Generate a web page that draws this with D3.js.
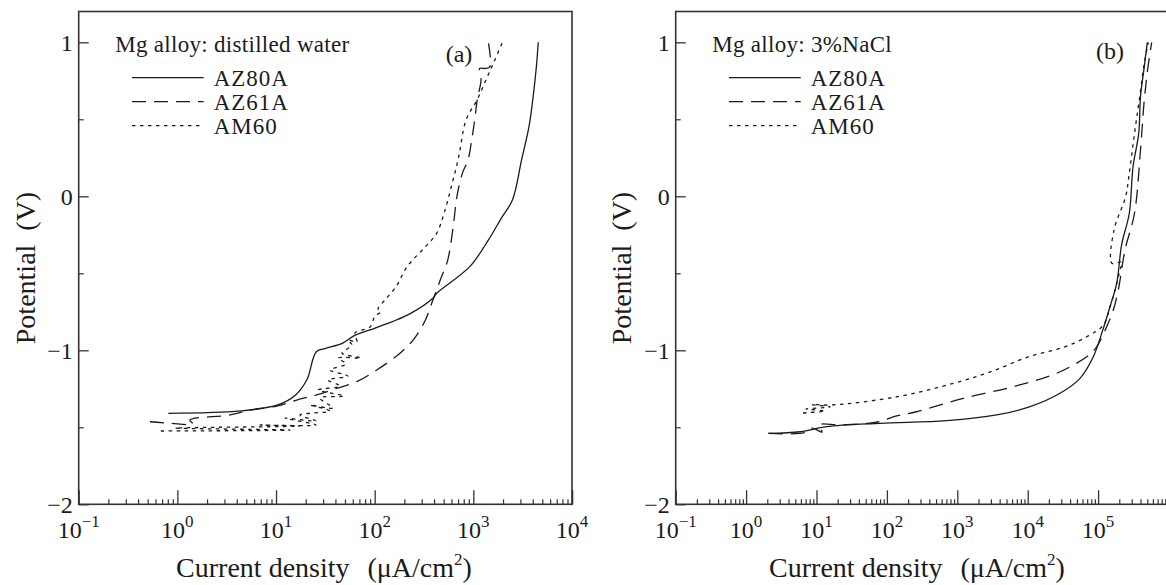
<!DOCTYPE html>
<html>
<head>
<meta charset="utf-8">
<script src="https://cdnjs.cloudflare.com/ajax/libs/d3/7.8.5/d3.min.js"></script>
<style>
  html, body { margin: 0; padding: 0; background: #fff; }
  svg { display: block; }
  text { font-family: "Liberation Serif", "Times New Roman", Times, serif; }
</style>
</head>
<body>
<svg id="chart" width="1166" height="585"></svg>
<script>
// current density (uA/cm2), potential (V)

// (a) distilled water
const waterAZ80A = [
  [0.81, -1.41], [4.37, -1.394], [10.4, -1.355], [15.8, -1.29], [20.6, -1.19],
  [25.6, -1.009], [31.8, -0.987], [46.9, -0.955], [63.5, -0.901], [89.5, -0.868],
  [150.7, -0.814], [231.7, -0.76], [389, -0.662], [425, -0.63], [920, -0.457],
  [1419, -0.284], [1919, -0.143], [2489, -0.024], [3083, 0.236], [3664, 0.452],
  [4000, 0.625], [4355, 0.842], [4550, 1.0]
];
const waterAZ61A = [
  [0.528, -1.464], [0.842, -1.474], [1.44, -1.479], [1.34, -1.453], [3.42, -1.42],
  [5.45, -1.388], [10.2, -1.362], [16.2, -1.323], [25.8, -1.29], [41.2, -1.247],
  [65.7, -1.204], [104.8, -1.128], [180.6, -1.019], [253, -0.922], [327, -0.803],
  [389, -0.673], [462, -0.544], [550, -0.414], [625, -0.197], [681, -0.003],
  [774, 0.149], [883, 0.236], [962, 0.366], [1032, 0.496], [1094, 0.625],
  [1196, 0.755], [1160, 0.83], [1330, 0.83], [1470, 0.84], [1420, 1.0]
];
const waterAM60 = [
  [0.68, -1.524], [13.9, -1.518], [0.95, -1.505], [17.5, -1.492], [6.9, -1.485],
  [25.4, -1.485], [12.3, -1.44], [25.4, -1.459], [17.5, -1.42], [35.2, -1.394],
  [22.1, -1.355], [37.8, -1.375], [27.9, -1.31], [48.9, -1.297], [26.7, -1.258],
  [44.6, -1.232], [33.6, -1.193], [53.6, -1.167], [35.2, -1.128], [51.2, -1.089],
  [42.5, -1.05], [72.6, -1.05], [46.6, -1.018], [58.9, -0.966], [53.6, -0.933],
  [66.2, -0.946], [63.1, -0.888], [89.7, -0.849], [100.7, -0.777], [115.9, -0.751],
  [108, -0.732], [127, -0.673], [164, -0.589], [213, -0.457], [327, -0.327],
  [425, -0.24], [505, -0.11], [598, 0.062], [711, 0.257], [843, 0.495],
  [1089, 0.625], [1343, 0.756], [1618, 0.872], [1972, 1.0]
];

// (b) 3% NaCl
const saltAZ80A = [
  [2.05, -1.54], [5.9, -1.529], [13.9, -1.496], [79.8, -1.474], [706, -1.457],
  [3631, -1.42], [10790, -1.366], [28780, -1.279], [55340, -1.182], [85500, -1.042],
  [112500, -0.89], [147600, -0.717], [183700, -0.565], [216300, -0.312],
  [277500, -0.11], [313300, 0.192], [377600, 0.409], [400000, 0.647],
  [452900, 0.842], [500000, 1.0]
];
const saltAZ61A = [
  [2.1, -1.539], [6.7, -1.535], [8.6, -1.505], [12.0, -1.531], [10.9, -1.485],
  [22.8, -1.485], [77.3, -1.464], [125.6, -1.431], [261.8, -1.399], [1216, -1.312],
  [6237, -1.236], [25820, -1.149], [68870, -1.042], [95500, -0.977], [132400, -0.847],
  [164400, -0.738], [193600, -0.608], [241000, -0.349], [328900, -0.11],
  [400000, 0.301], [452900, 0.625], [511700, 0.842], [576800, 1.0]
];
const saltAM60 = [
  [6.43, -1.407], [13.2, -1.394], [7.1, -1.381], [15.6, -1.368], [8.6, -1.352],
  [16.6, -1.355], [141.9, -1.301], [889, -1.214], [3013, -1.139], [10230, -1.042],
  [32800, -0.979], [68870, -0.912], [118700, -0.836], [147600, -0.717],
  [173800, -0.608], [204600, -0.479], [216300, -0.427], [157400, -0.435],
  [168300, -0.219], [246000, -0.003], [275000, 0.138], [334300, 0.431],
  [393600, 0.658], [448700, 0.853], [516400, 1.0]
];

const seriesNames = ['AZ80A', 'AZ61A', 'AM60'];
const yMajor = [-2, -1, 0, 1];
const yMinor = [-1.5, -0.5, 0.5];
const yLabels = ['\u22122', '\u22121', '0', '1'];
const xExpA = [-1, 0, 1, 2, 3, 4];
const xExpB = [-1, 0, 1, 2, 3, 4, 5];

const dashes = [null, '14,8', '3.5,4.5'];
const ink = '#1b1b1b';

const svg = d3.select('#chart');

const y = d3.scaleLinear().domain([-2, 1.2]).range([504.3, 11.5]);

const panels = [
  {
    left: 78.7, right: 572, domain: [0.1, 1e4], exps: xExpA,
    title: 'Mg alloy: distilled water', tag: '(a)', tagX: 459, tagY: 62,
    data: [waterAZ80A, waterAZ61A, waterAM60], yTitleX: 35, xTitleX: 324
  },
  {
    left: 675.7, right: 1168.5, domain: [0.1, 1e6], exps: xExpB,
    title: 'Mg alloy: 3%NaCl', tag: '(b)', tagX: 1110, tagY: 59,
    data: [saltAZ80A, saltAZ61A, saltAM60], yTitleX: 631, xTitleX: 917
  }
];

panels.forEach(p => {
  const x = d3.scaleLog().domain(p.domain).range([p.left, p.right]);
  const g = svg.append('g');

  const majors = p.exps.map(e => Math.pow(10, e)).concat([p.domain[1]]);
  const minors = [];
  for (let e = Math.log10(p.domain[0]); e < Math.log10(p.domain[1]); e++) {
    for (let k = 2; k <= 9; k++) minors.push(k * Math.pow(10, e));
  }

  // x ticks point into the plot
  g.append('g')
    .attr('transform', `translate(0, ${y.range()[0]})`)
    .call(d3.axisBottom(x).tickValues(majors).tickSize(-14).tickFormat(''))
    .call(a => a.select('.domain').remove())
    .selectAll('line').attr('stroke', '#333').attr('stroke-width', 1.3);
  g.append('g')
    .attr('transform', `translate(0, ${y.range()[0]})`)
    .call(d3.axisBottom(x).tickValues(minors).tickSize(-5).tickFormat(''))
    .call(a => a.select('.domain').remove())
    .selectAll('line').attr('stroke', '#333').attr('stroke-width', 1.2);

  g.append('g')
    .attr('transform', `translate(${p.left}, 0)`)
    .call(d3.axisRight(y).tickValues(yMajor).tickSize(10).tickFormat(''))
    .call(a => a.select('.domain').remove())
    .selectAll('line').attr('stroke', '#333').attr('stroke-width', 1.3);
  g.append('g')
    .attr('transform', `translate(${p.left}, 0)`)
    .call(d3.axisRight(y).tickValues(yMinor).tickSize(5).tickFormat(''))
    .call(a => a.select('.domain').remove())
    .selectAll('line').attr('stroke', '#333').attr('stroke-width', 1.2);

  // frame
  g.append('rect')
    .attr('x', p.left).attr('y', y.range()[1])
    .attr('width', p.right - p.left).attr('height', y.range()[0] - y.range()[1])
    .attr('fill', 'none').attr('stroke', '#333').attr('stroke-width', 1.6);

  // tick labels
  yMajor.forEach((v, i) => {
    g.append('text')
      .attr('x', p.left - 6).attr('y', y(v)).attr('dy', '0.35em')
      .attr('text-anchor', 'end').attr('font-size', 24).attr('fill', ink)
      .text(yLabels[i]);
  });
  p.exps.forEach(e => {
    const t = g.append('text')
      .attr('x', x(Math.pow(10, e))).attr('y', 538)
      .attr('text-anchor', 'middle').attr('font-size', 24).attr('fill', ink);
    t.append('tspan').text('10');
    t.append('tspan').attr('dy', -11).attr('font-size', 17)
      .text(e < 0 ? '\u2212' + (-e) : String(e));
  });

  // axis titles
  const xt = g.append('text')
    .attr('x', p.xTitleX).attr('y', 577)
    .attr('text-anchor', 'middle').attr('font-size', 28).attr('fill', ink);
  xt.append('tspan').text('Current density');
  xt.append('tspan').attr('dx', 18).text('(\u03bcA/cm');
  xt.append('tspan').attr('dy', -12).attr('font-size', 17).text('2');
  xt.append('tspan').attr('dy', 12).text(')');

  const yt = g.append('text')
    .attr('transform', `translate(${p.yTitleX}, 268) rotate(-90)`)
    .attr('text-anchor', 'middle').attr('font-size', 28).attr('fill', ink);
  yt.append('tspan').text('Potential');
  yt.append('tspan').attr('dx', 14).text('(V)');

  // curves
  const line = d3.line()
    .x(d => x(d[0]))
    .y(d => y(d[1]))
    .curve(d3.curveCatmullRom.alpha(0.5));
  p.data.forEach((s, i) => {
    g.append('path')
      .datum(s)
      .attr('d', line)
      .attr('fill', 'none')
      .attr('stroke', ink)
      .attr('stroke-width', 1.3)
      .attr('stroke-linejoin', 'round')
      .attr('stroke-dasharray', dashes[i]);
  });

  // legend
  g.append('text')
    .attr('x', p.left + 36.5).attr('y', 51.7)
    .attr('font-size', 23).attr('letter-spacing', 0.3).attr('fill', ink)
    .text(p.title);
  seriesNames.forEach((name, i) => {
    const ly = 77.7 + i * 24;
    g.append('line')
      .attr('x1', p.left + 53.3).attr('x2', p.left + 125)
      .attr('y1', ly).attr('y2', ly)
      .attr('stroke', ink).attr('stroke-width', 1.3)
      .attr('stroke-dasharray', dashes[i]);
    g.append('text')
      .attr('x', p.left + 135).attr('y', ly + 8)
      .attr('font-size', 23).attr('letter-spacing', 1).attr('fill', ink)
      .text(name);
  });

  g.append('text')
    .attr('x', p.tagX).attr('y', p.tagY)
    .attr('text-anchor', 'middle').attr('font-size', 24).attr('fill', ink)
    .text(p.tag);
});
</script>
</body>
</html>
